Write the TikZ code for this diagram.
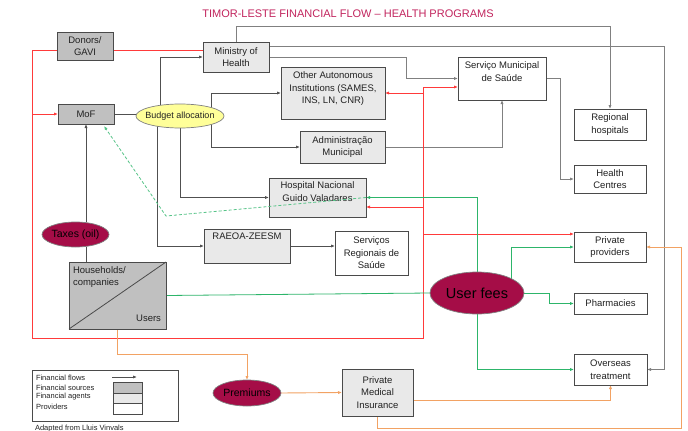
\documentclass[tikz,border=0pt]{standalone}
\usepackage{fontspec}
\setmainfont{Liberation Sans}
\usetikzlibrary{arrows.meta,shapes.geometric}
\definecolor{src}{HTML}{C0C0C0}
\definecolor{agt}{HTML}{E9E9E9}
\definecolor{edgec}{HTML}{4A4A4A}
\definecolor{redl}{HTML}{FF3A3A}
\definecolor{greenl}{HTML}{2DB56A}
\definecolor{orangel}{HTML}{F2A263}
\definecolor{grayl}{HTML}{808080}
\definecolor{darkl}{HTML}{505050}
\definecolor{maroonc}{HTML}{A50D47}
\definecolor{titlec}{HTML}{C2255E}
\definecolor{budgetc}{HTML}{FFFF99}
\definecolor{txt}{HTML}{222222}
\pgfdeclarelayer{bg}
\pgfsetlayers{bg,main}
\newcommand{\topbox}[4]{\parbox[c][#2][t]{#1}{\centering\rule{0pt}{#3}#4}}
\begin{document}
\begin{tikzpicture}[x=1pt,y=-1pt,
  font=\fontsize{9.5}{12.5}\selectfont,
  every node/.style={inner sep=0pt,outer sep=0pt,text=txt},
  bx/.style={draw=edgec,line width=0.9pt,align=center},
  srcbox/.style={bx,fill=src},
  agtbox/.style={bx,fill=agt},
  provbox/.style={bx,fill=white},
  oval/.style={ellipse,draw=grayl,line width=0.7pt},
  moval/.style={oval,fill=maroonc,text=black},
  ar/.style={-{Latex[length=4pt,width=3.2pt]}},
  dk/.style={draw=darkl,line width=0.8pt},
  gl/.style={draw=grayl,line width=1pt},
  rd/.style={draw=redl,line width=0.8pt},
  gr/.style={draw=greenl,line width=0.8pt},
  gd/.style={draw=greenl!80,line width=0.8pt,dashed,dash pattern=on 3pt off 2pt},
  og/.style={draw=orangel,line width=0.9pt},
  legtext/.style={anchor=west,font=\fontsize{7.5}{9}\selectfont}
]
\useasboundingbox (0,0) rectangle (688,431);

% title
\node[text=titlec,font=\fontsize{11}{13}\selectfont] (title) at (348,14) {TIMOR-LESTE FINANCIAL FLOW – HEALTH PROGRAMS};

% sources
\node[srcbox,minimum width=56,minimum height=28] (donors) at (85,46) {Donors/\\GAVI};
\node[srcbox,minimum width=56,minimum height=20] (mof) at (86,114) {MoF};
\node[srcbox,minimum width=97,minimum height=67] (hh) at (117.5,295.5) {};
\draw[edgec,line width=0.8pt] (hh.south west) -- (hh.north east);
\node[anchor=west,align=left] (hhtext) at (73,277) {Households/\\companies};
\node[anchor=east] (users) at (161,318) {Users};

% agents
\node[agtbox,minimum width=66,minimum height=30] (moh) at (236,57) {Ministry of\\Health};
\node[agtbox] (oai) at (333,93) {\topbox{104pt}{52pt}{11.5pt}{Other Autonomous\\Institutions (SAMES,\\INS, LN, CNR)}};
\node[agtbox,minimum width=85,minimum height=32] (adm) at (342.5,147) {Administração\\Municipal};
\node[agtbox] (hosp) at (317.5,197.5) {\topbox{97pt}{39pt}{10.5pt}{Hospital Nacional\\Guido Valadares}};
\node[agtbox] (raeoa) at (247,246) {\topbox{86pt}{34pt}{10.5pt}{RAEOA-ZEESM}};
\node[agtbox,minimum width=71,minimum height=47] (pmi) at (377.5,392.5) {Private\\Medical\\Insurance};

% providers
\node[provbox] (smun) at (502,78.5) {\topbox{88pt}{43pt}{11.5pt}{Serviço Municipal\\de Saúde}};
\node[provbox,minimum width=73,minimum height=44] (srs) at (371.5,253) {Serviços\\Regionais de\\Saúde};
\node[provbox,minimum width=72,minimum height=31] (rh) at (610,124.5) {Regional\\hospitals};
\node[provbox,minimum width=72,minimum height=28] (hc) at (610,179) {Health\\Centres};
\node[provbox,minimum width=72,minimum height=30] (pp) at (610,247) {Private\\providers};
\node[provbox,minimum width=73,minimum height=21] (ph) at (610.5,303.5) {Pharmacies};
\node[provbox,minimum width=73,minimum height=31] (ov) at (610.5,369.5) {Overseas\\treatment};

% ellipses
\node[oval,fill=budgetc,minimum width=88,minimum height=24,font=\fontsize{9}{11}\selectfont] (budget) at (180,116) {\makebox[0pt]{Budget allocation}};
\node[moval,minimum width=67,minimum height=25,font=\fontsize{10.5}{12}\selectfont] (taxes) at (75.5,234.5) {\makebox[0pt]{Taxes (oil)}};
\node[moval,minimum width=94,minimum height=42,font=\fontsize{14.5}{16}\selectfont] (uf) at (477,293) {\makebox[0pt]{User fees}};
\node[moval,minimum width=68,minimum height=26,font=\fontsize{10.5}{12}\selectfont] (prem) at (247,393) {\makebox[0pt]{Premiums}};

% legend
\node[draw=edgec,line width=0.8pt,minimum width=146,minimum height=51] (legend) at (105,395.5) {};
\node[legtext] (l1) at (36,377.5) {Financial flows};
\node[legtext] (l2) at (36,387.5) {Financial sources};
\node[legtext] (l3) at (36,397) {Financial agents};
\node[legtext] (l4) at (36,407) {Providers};
\coordinate (la1) at (112,377);
\coordinate (la2) at (137,377);
\draw[dk,ar] (la1) -- (la2);
\node[draw=edgec,line width=0.8pt,fill=src,minimum width=29,minimum height=11] (lsrc) at (127.5,387.5) {};
\node[draw=edgec,line width=0.8pt,fill=agt,minimum width=29,minimum height=10] (lagt) at (127.5,398) {};
\node[draw=edgec,line width=0.8pt,fill=white,minimum width=29,minimum height=11] (lprov) at (127.5,408.5) {};
\node[anchor=west,font=\fontsize{7.5}{9}\selectfont] (credit) at (35,428.5) {Adapted from Lluis Vinvals};

% dashed return flow, drawn over the hospital box
\coordinate (dbend) at (166,216);
\draw[gd,ar] (hosp.east) -- (dbend) -- ([xshift=-10pt,yshift=-2pt]mof.south east);

\begin{pgfonlayer}{bg}
\fill[white] (0,0) rectangle (688,431);
% coordinates for red trunk
\coordinate (rl) at (32,50);
\coordinate (rb) at (32,338.5);
\coordinate (rt) at (423,87);
\coordinate (ppr) at ([yshift=13pt]pp.west);
\coordinate (hospr) at ([yshift=-9.5pt]hosp.east);
\coordinate (donr) at ([yshift=-4pt]donors.east);
\coordinate (donl) at ([yshift=-4pt]donors.west);

% gray/dark flows
\draw[dk] (mof.east) -- (budget.west |- mof.east) -- (budget.west);
\draw[dk,ar] (budget.152) |- (moh.west);
\draw[dk,ar] (budget.205) |- (raeoa.west);
\draw[dk,ar] (budget.south) |- (hosp.west);
\draw[dk,ar] (budget.15) |- (oai.west);
\draw[dk,ar] (budget.-15) |- (adm.west);
\draw[dk,ar] (mof.south |- taxes.north) -- (mof.south);
\draw[dk] (hh.north -| mof.south) -- (mof.south |- taxes.south);
\draw[gl,ar] (moh.east) -- ++(137,0) |- (smun.west);
\draw[gl,ar] ([yshift=11pt]moh.east) -- ++(395,0) |- (ov.east);
\draw[gl,ar] (moh.north) -- ++(0,-16) -| (rh.north);
\draw[gl,ar] (smun.east) -- ++(14,0) |- (hc.west);
\draw[gl,ar] (adm.east) -| (smun.south);
\draw[dk,ar] (raeoa.east) -- (srs.west |- raeoa.east);

% red flows
\draw[rd,ar] (donl) -| (rb) -| (rt) -- (rt -| smun.west);
\draw[rd,ar] (rl |- mof.west) -- (mof.west);
\draw[rd] (donr) -- (donr -| moh.west);
\draw[rd,ar] (rt |- oai.east) -- (oai.east);
\draw[rd,ar] (hospr -| rt) -- (hospr);
\draw[rd,ar] (ppr -| rt) -- (ppr);

% green flows
\draw[gr] (hh.east) -- (uf.west);
\draw[gr,ar] (uf.north) |- (hosp.east);
\draw[gr,ar] (uf.23) |- (pp.west);
\draw[gr,ar] (uf.east) -- ++(25,0) |- (ph.west);
\draw[gr,ar] (uf.south) |- (ov.west);

% orange flows
\draw[og,ar] (hh.south) -- ++(0,25) -| (prem.north);
\draw[og,ar] (prem.east) -- (pmi.west);
\draw[og,ar] ([yshift=-7.5pt]pmi.east) -| (ov.south);
\draw[og,ar] (pmi.south) -- ++(0,12) -- ++(303.5,0) |- (pp.east);
\end{pgfonlayer}
\end{tikzpicture}
\end{document}
